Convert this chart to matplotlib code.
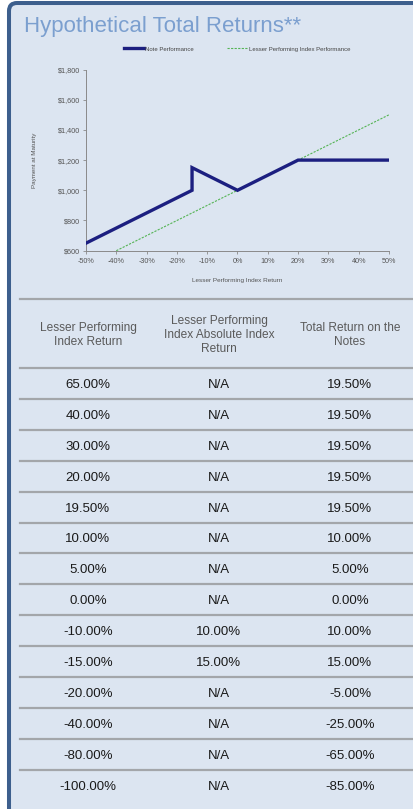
"""Hypothetical total returns: payoff chart plus the returns table below it."""
import matplotlib

matplotlib.use("Agg")
import matplotlib.pyplot as plt  # noqa: E402
from matplotlib.patches import PathPatch, Rectangle  # noqa: E402
from matplotlib.path import Path  # noqa: E402

plt.rcParams["font.family"] = ["Liberation Sans", "DejaVu Sans"]

W, H = 414, 809

# chart data
note_x = [-50, -15, -15, 0, 20, 50]
note_y = [650, 1000, 1150, 1000, 1200, 1200]
index_x = [-40, 50]
index_y = [600, 1500]
x_ticks = [-50, -40, -30, -20, -10, 0, 10, 20, 30, 40, 50]
y_ticks = [600, 800, 1000, 1200, 1400, 1600, 1800]

# table data
headers = ["Lesser Performing\nIndex Return",
           "Lesser Performing\nIndex Absolute Index\nReturn",
           "Total Return on the\nNotes"]
index_return = [65.0, 40.0, 30.0, 20.0, 19.5, 10.0, 5.0, 0.0, -10.0, -15.0, -20.0, -40.0, -80.0, -100.0]
abs_return = [None, None, None, None, None, None, None, None, 10.0, 15.0, None, None, None, None]
note_return = [19.5, 19.5, 19.5, 19.5, 19.5, 10.0, 5.0, 0.0, 10.0, 15.0, -5.0, -25.0, -65.0, -85.0]

BG = "#dce5f1"
NAVY = "#1c1f80"
GREEN = "#55b455"
BORDER = "#3d5f8d"


def fx(px):
    return px / W


def fy(py):
    return 1 - py / H


fig = plt.figure(figsize=(W / 100, H / 100), dpi=100, facecolor="white")

# light panel, border only along the left and top edges (rounded corner)
fig.patches.append(Rectangle((fx(9), 0), 1, fy(3), transform=fig.transFigure, fc=BG, ec="none",
                             zorder=-6))
bx, by, r = 0.09, (H - 3) / 100, 0.08
border = Path([(bx, -0.1), (bx, by - r), (bx, by), (bx + r, by), (W / 100 + 0.1, by)],
              [Path.MOVETO, Path.LINETO, Path.CURVE3, Path.CURVE3, Path.LINETO])
fig.patches.append(PathPatch(border, transform=fig.dpi_scale_trans, fill=False, ec=BORDER, lw=2.9,
                             zorder=-5))

fig.text(fx(24), fy(32), "Hypothetical Total Returns**", fontsize=16, color="#7b9fcf",
         ha="left", va="baseline")

# chart
ax = fig.add_axes([fx(86), fy(250.7), fx(389) - fx(86), (250.7 - 69.5) / H])
ax.set_facecolor("none")
ax.set_zorder(2)
ax.plot(note_x, note_y, c=NAVY, lw=2.4, solid_joinstyle="miter", label="Note Performance", zorder=3)
ax.plot(index_x, index_y, c=GREEN, lw=0.8, ls=(0, (2, 1.2)), label="Lesser Performing Index Performance",
        zorder=2)
ax.set_xlim(-50, 50)
ax.set_ylim(600, 1800)
ax.set_xticks(x_ticks)
ax.set_xticklabels([f"{v}%" for v in x_ticks])
ax.set_yticks(y_ticks)
ax.set_yticklabels([f"${v:,.0f}" for v in y_ticks])
ax.tick_params(labelsize=5.2, colors="#8a8a8a", labelcolor="#555555", length=2.5, width=0.6, pad=2)
ax.tick_params(axis="x", pad=3)
ax.spines[["top", "right"]].set_visible(False)
for s in ("left", "bottom"):
    ax.spines[s].set_color("#8a8a8a")
    ax.spines[s].set_linewidth(0.7)
ax.set_xlabel("Lesser Performing Index Return", fontsize=4.6, color="#555555", labelpad=9)
ax.set_ylabel("Payment at Maturity", fontsize=4.5, color="#555555", labelpad=15)
fig.legend(loc="center", bbox_to_anchor=(fx(237), fy(49)), ncol=2, frameon=False, fontsize=4.3,
           handlelength=3.4, handletextpad=0.2, columnspacing=5.5, labelcolor="#444444")

# table
col_x = [88, 219, 350]
row_h = 30.9
line_top = 368
for py in [299] + [line_top + k * row_h for k in range(14)]:
    fig.add_artist(plt.Line2D([fx(20), fx(W)], [fy(py), fy(py)], transform=fig.transFigure,
                              color="#a3a6aa", lw=1.6))

for cx, h in zip(col_x, headers):
    fig.text(fx(cx), fy(335), h, fontsize=8.6, color="#5a5a5a", ha="center", va="center",
             linespacing=1.2)

for i, (a, b, c) in enumerate(zip(index_return, abs_return, note_return)):
    py = line_top + (i + 0.5) * row_h + 1.5
    cells = [f"{a:.2f}%", "N/A" if b is None else f"{b:.2f}%", f"{c:.2f}%"]
    for cx, s in zip(col_x, cells):
        fig.text(fx(cx), fy(py), s, fontsize=9.5, color="#1a1a1a", ha="center", va="center")

fig.savefig("out.png", dpi=100, facecolor="white")
